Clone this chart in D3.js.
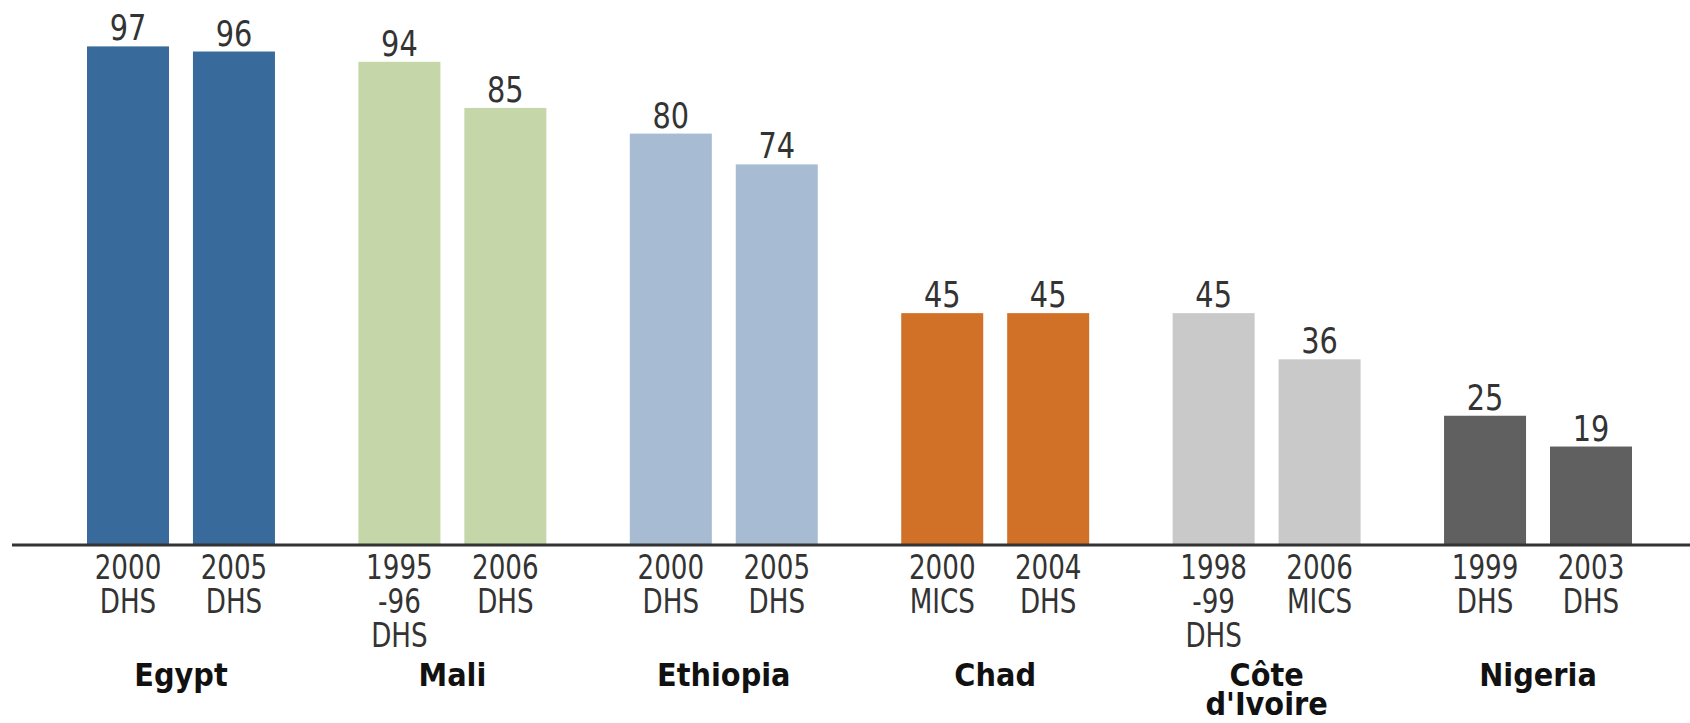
<!DOCTYPE html>
<html>
<head>
<meta charset="utf-8">
<script src="https://cdn.jsdelivr.net/npm/d3@7"></script>
<style>
    body { margin: 0; background: #ffffff; }
    svg { display: block; }
</style>
</head>
<body>
<svg class="chart"></svg>
<script>
// chart data, one entry per country
const countries = ["Egypt", "Mali", "Ethiopia", "Chad", "Côte\nd'Ivoire", "Nigeria"]
const surveys = [
    ["2000\nDHS", "2005\nDHS"],
    ["1995\n-96\nDHS", "2006\nDHS"],
    ["2000\nDHS", "2005\nDHS"],
    ["2000\nMICS", "2004\nDHS"],
    ["1998\n-99\nDHS", "2006\nMICS"],
    ["1999\nDHS", "2003\nDHS"]
]
const values = [
    [97, 96],
    [94, 85],
    [80, 74],
    [45, 45],
    [45, 36],
    [25, 19]
]
const countryColors = ["#386a9c", "#c5d6a9", "#a7bcd3", "#d07127", "#c9c9c9", "#606060"]

const svg = d3.select("svg.chart")
    .attr("width", 1690)
    .attr("height", 723)
    .attr("viewBox", "0 0 1690 723")

const baseline = 544

// scales
const scaleCountry = d3.scaleBand()
    .domain(d3.range(countries.length))
    .range([87, 1632])
    .paddingInner(0.3075)
    .paddingOuter(0)

const scaleBar = d3.scaleBand()
    .domain([0, 1])
    .range([0, scaleCountry.bandwidth()])
    .paddingInner(0.226)
    .paddingOuter(0)

const scaleY = d3.scaleLinear()
    .domain([0, 100])
    .range([baseline, 31])

// flatten into one row per bar
const bars = []
values.forEach((pair, c) => {
    pair.forEach((v, i) => {
        bars.push({country: c, idx: i, value: v, survey: surveys[c][i]})
    })
})

const barX = (d) => {return scaleCountry(d.country) + scaleBar(d.idx)}
const barCenter = (d) => {return barX(d) + scaleBar.bandwidth() / 2}

// multi-line label as one text element with tspans
const multiLine = function(textSel, lines, lineHeight) {
    lines.forEach((line, k) => {
        textSel.append("tspan")
            .attr("x", 0)
            .attr("dy", k === 0 ? 0 : lineHeight)
            .text(line)
    })
}

const barGroups = svg
    .selectAll("g.bar")
    .data(bars)
    .enter()
    .append("g")
    .attr("class", "bar")

barGroups
    .append("rect")
    .attr("x", (d, i) => {return barX(d)})
    .attr("y", (d, i) => {return scaleY(d.value)})
    .attr("width", scaleBar.bandwidth())
    .attr("height", (d, i) => {return baseline - scaleY(d.value)})
    .attr("fill", (d, i) => {return countryColors[d.country]})

// value labels above bars
barGroups
    .append("text")
    .attr("transform", (d, i) => {return `translate(${barCenter(d)}, ${scaleY(d.value) - 6}) scale(0.8, 1)`})
    .attr("text-anchor", "middle")
    .attr("font-family", "DejaVu Sans, Verdana, sans-serif")
    .attr("font-size", "36px")
    .attr("fill", "#333333")
    .text((d, i) => {return d.value})

// survey labels under bars
barGroups
    .append("text")
    .attr("class", "survey")
    .attr("transform", (d, i) => {return `translate(${barCenter(d)}, 579) scale(0.77, 1)`})
    .attr("text-anchor", "middle")
    .attr("font-family", "DejaVu Sans, Verdana, sans-serif")
    .attr("font-size", "34px")
    .attr("fill", "#333333")
    .each(function(d) {
        multiLine(d3.select(this), d.survey.split("\n"), 34)
    })

// axis line
svg.append("line")
    .attr("x1", 12)
    .attr("x2", 1690)
    .attr("y1", baseline + 1)
    .attr("y2", baseline + 1)
    .attr("stroke", "#333333")
    .attr("stroke-width", 3)

// country names
svg
    .selectAll("text.country")
    .data(countries)
    .enter()
    .append("text")
    .attr("class", "country")
    .attr("transform", (d, c) => {
        const cx = scaleCountry(c) + scaleCountry.bandwidth() / 2
        return `translate(${cx}, 686) scale(0.9, 1)`
    })
    .attr("text-anchor", "middle")
    .attr("font-family", "DejaVu Sans, Verdana, sans-serif")
    .attr("font-weight", "bold")
    .attr("font-size", "32px")
    .attr("fill", "#111111")
    .each(function(d) {
        multiLine(d3.select(this), d.split("\n"), 29)
    })
</script>
</body>
</html>
